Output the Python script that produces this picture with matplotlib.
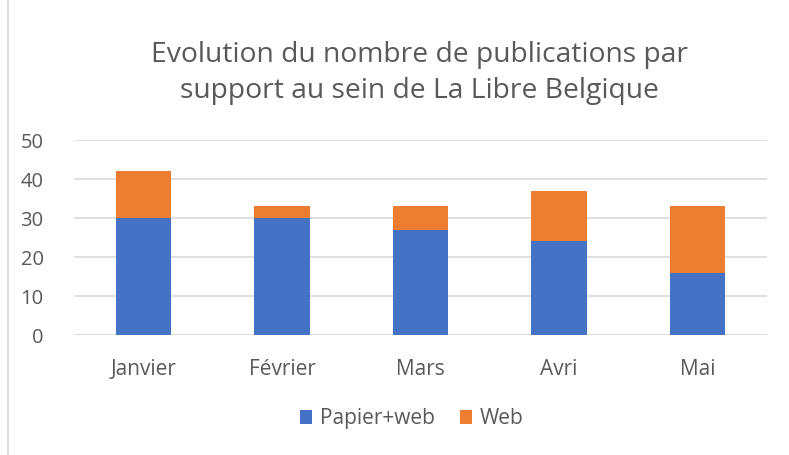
import matplotlib.pyplot as plt
from matplotlib.patches import Rectangle
import numpy as np

months = ['Janvier', 'Février', 'Mars', 'Avri', 'Mai']
papier_web = [30, 30, 27, 24, 16]
web = [12, 3, 6, 13, 17]

title = 'Evolution du nombre de publications par\nsupport au sein de La Libre Belgique'
txt = '#595959'
plt.rcParams['font.family'] = ['Open Sans', 'DejaVu Sans']

fig = plt.figure(figsize=(7.89, 4.55), dpi=100)
ax = fig.add_axes([0.094, 0.2637, 0.878, 0.4286])

x = np.arange(len(months))
ax.bar(x, papier_web, width=0.4, color='#4472C4', label='Papier+web', zorder=3)
ax.bar(x, web, width=0.4, bottom=papier_web, color='#ED7D31', label='Web', zorder=3)

ax.set_xlim(-0.5, len(months) - 0.5)
ax.set_ylim(0, 50)
ax.set_yticks(range(0, 51, 10))
ax.set_xticks(x)
ax.set_xticklabels(months)
ax.yaxis.grid(True, color='#D9D9D9', lw=1.2, zorder=0)
for s in ax.spines.values():
    s.set_visible(False)
ax.tick_params(length=0, labelsize=15, colors=txt, pad=17)
ax.tick_params(axis='y', labelsize=14.5, pad=22)

fig.text(0.532, 0.84, title, ha='center', va='center', fontsize=20.3,
         color=txt, linespacing=1.4)

ax.legend(loc='center', bbox_to_anchor=(0.487, -0.43), ncol=2, frameon=False,
          fontsize=15, labelcolor=txt, handlelength=0.6, handleheight=0.6,
          handletextpad=0.35, columnspacing=1.2)

fig.patches.append(Rectangle((0.01, -0.01), 1.2, 1.2, transform=fig.transFigure,
                             fill=False, edgecolor='#D9D9D9', lw=1.2))

fig.savefig('out.png', dpi=100)
